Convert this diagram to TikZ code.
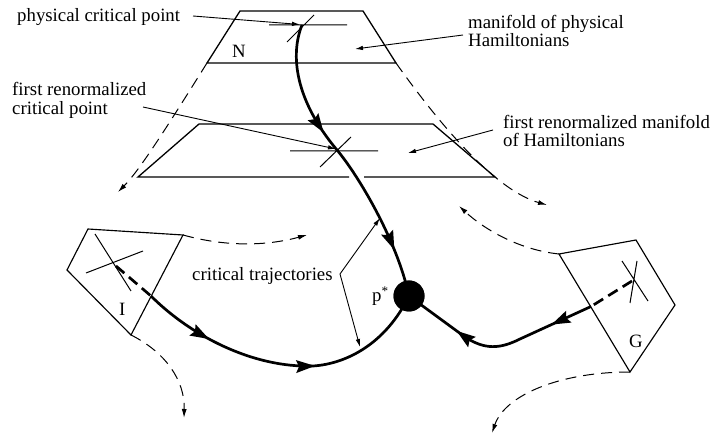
\documentclass[tikz,border=0pt]{standalone}
\usepackage{fontspec}
\setmainfont{Liberation Serif}
\usetikzlibrary{arrows.meta}
\begin{document}
\begin{tikzpicture}[x=1pt,y=-1pt,
  lbl/.style={anchor=base west,inner sep=0pt,font=\fontsize{18.8}{20}\selectfont},
  edge/.style={line width=1.3pt,line join=miter},
  thin/.style={line width=1pt},
  pointer/.style={line width=0.9pt,-{Latex[length=8pt,width=4.5pt]}},
  flow/.style={line width=1pt,dash pattern=on 11pt off 7pt,-{Latex[length=9pt,width=5pt]}},
  traj/.style={line width=2.7pt},
  trajdash/.style={line width=2.7pt,dash pattern=on 11pt off 6pt},
  trajtip/.pic={\fill (2pt,0pt) -- (-17pt,6.5pt) -- (-14pt,0pt) -- (-17pt,-6.5pt) -- cycle;},
  tipat/.style={sloped,allow upside down,pos=#1},
]
\useasboundingbox (0,0) rectangle (715,435);

% manifold of physical Hamiltonians (upper trapezoid)
\coordinate (u1) at (240,11);
\coordinate (u2) at (363,11);
\coordinate (u3) at (396,63);
\coordinate (u4) at (207,63);
\draw[edge] (u4) -- (u1) -- (u2) -- (u3) -- cycle;

% first renormalized manifold (lower trapezoid)
\coordinate (l1) at (199,124);
\coordinate (l2) at (433,124);
\coordinate (l3) at (495,177);
\coordinate (l4) at (138,177);
\coordinate (lgapa) at (349,177);
\coordinate (lgapb) at (364,177);
\draw[edge] (lgapa) -- (l4) -- (l1) -- (l2) -- (l3) -- (lgapb);

% crosshairs on the manifolds
\coordinate (c1h1) at (269,25); \coordinate (c1h2) at (347,25);
\coordinate (c1d1) at (287,42); \coordinate (c1d2) at (314,15);
\draw[thin] (c1h1) -- (c1h2) (c1d1) -- (c1d2);
\coordinate (c2h1) at (290,151); \coordinate (c2h2) at (378,151);
\coordinate (c2d1) at (320,167); \coordinate (c2d2) at (351,137);
\draw[thin] (c2h1) -- (c2h2) (c2d1) -- (c2d2);

% box I
\coordinate (i1) at (88,229);
\coordinate (i2) at (183,235);
\coordinate (i3) at (131,335);
\coordinate (i4) at (67,270);
\draw[edge,line width=1.15pt] (i1) -- (i2) -- (i3) -- (i4) -- cycle;
\coordinate (ia1) at (95,234); \coordinate (ia2) at (131,291);
\coordinate (ib1) at (86,273); \coordinate (ib2) at (143,251);
\draw[thin] (ia1) -- (ia2) (ib1) -- (ib2);

% box G
\coordinate (g1) at (559,254);
\coordinate (g2) at (636,240);
\coordinate (g3) at (675,305);
\coordinate (g4) at (630,372);
\draw[edge,line width=1.15pt] (g1) -- (g2) -- (g3) -- (g4) -- cycle;
\coordinate (ga1) at (622,261); \coordinate (ga2) at (648,301);
\coordinate (gb1) at (637,261); \coordinate (gb2) at (630,303);
\draw[thin] (ga1) -- (ga2) (gb1) -- (gb2);

% dashed flows
\coordinate (f1) at (118,192);
\draw[flow] (u4) .. controls (170,122) and (140,170) .. (f1);
\coordinate (f2) at (547,205);
\draw[flow] (u3) .. controls (440,125) and (495,190) .. (f2);
\coordinate (f3) at (459,206);
\draw[flow] (g1) .. controls (520,250) and (485,230) .. (f3);
\coordinate (f4) at (307,235);
\draw[flow] (i2) .. controls (230,248) and (270,245) .. (f4);
\coordinate (f5) at (184,418);
\draw[flow] (i3) .. controls (165,352) and (185,380) .. (f5);
\coordinate (f6) at (492,433);
\draw[flow] (g4) .. controls (560,372) and (505,395) .. (f6);

% fixed point
\node[circle,fill=black,minimum size=31pt,inner sep=0pt] (pstar) at (409,296) {};

% critical trajectories
\coordinate (x1) at (302,25);
\coordinate (x2) at (337,150);
\draw[traj] (x1) .. controls (290,55) and (295,100) .. (x2) pic[tipat=0.87]{trajtip}
   .. controls (358,175) and (397,240) .. (pstar.center) pic[tipat=0.72]{trajtip};

\coordinate (xi) at (116,266);
\coordinate (ie) at (151,296);
\draw[trajdash] (xi) -- (ie);
\coordinate (ib) at (313,366);
\draw[traj] (ie) .. controls (190,335) and (252,368) .. (ib) pic[tipat=0.40]{trajtip} pic[tipat=1]{trajtip}
   .. controls (345,364) and (385,345) .. (pstar.center);

\coordinate (xg) at (632,281);
\coordinate (ge) at (591,306.5);
\draw[trajdash] (xg) -- (ge);
\coordinate (gm) at (520,339);
\coordinate (gn) at (465,337);
\draw[traj,line join=round] (ge) -- (gm) pic[tipat=0.53]{trajtip}
   .. controls (500,349) and (485,350) .. (gn) -- (pstar.center) pic[tipat=0.12]{trajtip};

\node[circle,fill=black,minimum size=31pt,inner sep=0pt] at (pstar) {};

% labels
\node[lbl] (tphys) at (17,21.5) {physical critical point};
\node[lbl] (tN) at (232,58) {N};
\node[lbl] (tman1) at (468,28.3) {manifold of physical};
\node[lbl] (tman2) at (468,46.7) {Hamiltonians};
\node[lbl] (tfr1) at (12,95.7) {first renormalized};
\node[lbl] (tfr2) at (12,114.3) {critical point};
\node[lbl] (tfm1) at (503,128.3) {first renormalized manifold};
\node[lbl] (tfm2) at (503,146.7) {of Hamiltonians};
\node[lbl] (tct) at (192,280.7) {critical trajectories};
\node[lbl] (tI) at (119,316) {I};
\node[lbl] (tp) at (372,301.5) {p\textsuperscript{*}};
\node[lbl] (tG) at (629,348) {G};

% label pointers
\coordinate (p1s) at (193,16);  \coordinate (p1e) at (300,24.5);
\draw[pointer] (p1s) -- (p1e);
\coordinate (p2s) at (463,35);  \coordinate (p2e) at (355,49);
\draw[pointer] (p2s) -- (p2e);
\coordinate (p3s) at (143,107); \coordinate (p3e) at (336,149);
\draw[pointer] (p3s) -- (p3e);
\coordinate (p4s) at (493,130); \coordinate (p4e) at (408,153);
\draw[pointer] (p4s) -- (p4e);
\coordinate (ctc) at (340,274);
\coordinate (cta) at (380,218);
\coordinate (ctb) at (360,347);
\draw[pointer] (ctc) -- (cta);
\draw[pointer] (ctc) -- (ctb);
\end{tikzpicture}
\end{document}
